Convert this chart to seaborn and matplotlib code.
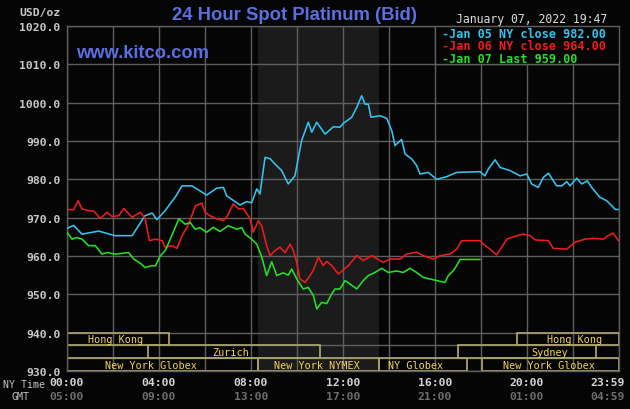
import matplotlib
matplotlib.use("Agg")
import matplotlib.pyplot as plt
import matplotlib.transforms as mtransforms
from matplotlib.patches import Rectangle
import pandas as pd
import seaborn as sns

# ---------------- data ----------------
jan05_hours = [0.00, 0.29, 0.65, 1.38, 2.09, 2.83, 3.39, 3.70, 3.91, 4.26, 4.70, 5.00, 5.43, 5.78,
               6.07, 6.51, 6.80, 6.94, 7.52, 7.81, 8.03, 8.25, 8.39, 8.61, 8.83, 9.04, 9.33, 9.62,
               9.91, 10.20, 10.49, 10.64, 10.86, 11.22, 11.58, 11.87, 12.01, 12.38, 12.60, 12.81,
               12.96, 13.10, 13.22, 13.61, 13.90, 14.12, 14.26, 14.40, 14.55, 14.70, 14.99, 15.20,
               15.35, 15.71, 16.07, 16.51, 16.94, 17.96, 18.17, 18.32, 18.61, 18.83, 19.26, 19.70,
               19.99, 20.20, 20.49, 20.71, 20.93, 21.29, 21.51, 21.73, 21.87, 22.16, 22.38, 22.62,
               22.81, 23.17, 23.47, 23.83, 23.97]
jan05_values = [967.2, 968.0, 965.7, 966.5, 965.3, 965.3, 970.5, 971.2, 969.5, 971.8, 975.3, 978.3,
                978.3, 977.0, 975.9, 977.7, 977.9, 975.7, 973.3, 974.2, 973.9, 977.5, 976.2, 985.7,
                985.4, 984.0, 982.3, 978.8, 980.9, 990.1, 994.9, 992.3, 994.9, 991.8, 993.7, 993.6,
                994.6, 996.2, 998.8, 1001.8, 999.6, 999.6, 996.2, 996.6, 995.9, 992.7, 988.8, 989.6,
                990.4, 986.6, 985.3, 983.6, 981.4, 981.8, 980.0, 980.7, 981.8, 982.0, 980.9, 982.7,
                985.1, 983.1, 982.3, 980.9, 981.4, 978.8, 977.9, 980.5, 981.6, 978.3, 978.3, 979.4,
                978.3, 980.3, 978.8, 979.6, 977.9, 975.3, 974.4, 972.2, 972.1]

jan06_hours = [0.00, 0.29, 0.48, 0.65, 0.94, 1.16, 1.45, 1.74, 1.96, 2.25, 2.47, 2.83, 3.19, 3.40,
               3.58, 3.84, 4.13, 4.27, 4.57, 4.78, 5.00, 5.29, 5.58, 5.86, 6.00, 6.22, 6.51, 6.80,
               6.94, 7.23, 7.45, 7.67, 7.96, 8.10, 8.32, 8.47, 8.68, 8.83, 9.04, 9.26, 9.48, 9.70,
               9.84, 9.99, 10.13, 10.35, 10.57, 10.71, 10.93, 11.14, 11.29, 11.51, 11.80, 12.23,
               12.60, 12.88, 13.25, 13.75, 14.04, 14.48, 14.77, 15.20, 15.49, 15.93, 16.22, 16.65,
               16.94, 17.16, 17.96, 18.10, 18.39, 18.68, 18.90, 19.12, 19.55, 19.84, 20.13, 20.35,
               20.93, 21.14, 21.73, 22.09, 22.52, 22.88, 23.32, 23.53, 23.75, 23.97]
jan06_values = [972.1, 972.1, 974.4, 972.3, 971.8, 971.7, 969.8, 971.4, 970.3, 970.5, 972.4, 970.1,
                971.4, 969.7, 964.0, 964.4, 964.0, 962.3, 962.7, 962.0, 965.3, 968.3, 973.1, 973.8,
                971.4, 970.5, 969.7, 969.3, 970.1, 973.6, 972.3, 972.4, 969.7, 966.2, 969.2, 967.8,
                962.7, 960.1, 961.4, 962.3, 960.9, 963.1, 961.4, 958.3, 954.0, 953.1, 954.9, 956.3,
                959.7, 957.5, 958.6, 957.5, 955.3, 957.5, 960.1, 958.8, 960.1, 958.3, 959.2, 959.2,
                960.5, 961.0, 960.1, 959.2, 960.1, 960.5, 961.8, 964.0, 964.0, 963.1, 961.8, 960.3,
                962.3, 964.4, 965.3, 965.7, 965.3, 964.2, 964.0, 962.0, 961.8, 963.6, 964.4, 964.6,
                964.4, 965.3, 966.0, 964.0]

jan07_hours = [0.00, 0.22, 0.43, 0.65, 0.94, 1.23, 1.52, 1.74, 2.10, 2.39, 2.68, 2.90, 3.19, 3.40,
               3.70, 3.84, 4.06, 4.27, 4.49, 4.71, 4.86, 5.14, 5.36, 5.57, 5.78, 6.07, 6.36, 6.65,
               7.01, 7.38, 7.60, 7.74, 8.03, 8.25, 8.47, 8.68, 8.90, 9.12, 9.40, 9.62, 9.77, 9.99,
               10.27, 10.49, 10.71, 10.86, 11.07, 11.29, 11.51, 11.65, 11.87, 12.09, 12.30, 12.60,
               12.88, 13.10, 13.39, 13.68, 13.97, 14.33, 14.62, 14.91, 15.20, 15.49, 15.78, 16.07,
               16.43, 16.58, 16.80, 16.94, 17.09, 17.96]
jan07_values = [966.2, 964.4, 964.8, 964.4, 962.7, 962.7, 960.5, 960.9, 960.5, 960.7, 960.9, 959.2,
                958.1, 957.0, 957.5, 957.4, 960.1, 961.4, 964.4, 967.5, 969.7, 968.3, 968.7, 967.0,
                967.4, 966.2, 967.5, 966.4, 967.9, 967.0, 967.4, 965.7, 964.4, 963.1, 959.7, 954.9,
                958.5, 954.9, 955.6, 955.0, 956.6, 954.0, 951.4, 951.8, 949.7, 946.2, 947.9, 947.6,
                950.1, 951.4, 951.4, 953.6, 952.7, 951.4, 953.6, 954.9, 955.7, 956.8, 955.7, 956.1,
                955.7, 956.8, 955.7, 954.4, 954.0, 953.6, 953.1, 954.9, 956.2, 957.5, 959.1, 959.1]

series_labels = ["Jan 05 NY close", "Jan 06 NY close", "Jan 07 Last"]
legend_values = [982.00, 964.00, 959.00]
series_colors = ["#35c3f0", "#ee1c1c", "#25e025"]

y_ticks = [930, 940, 950, 960, 970, 980, 990, 1000, 1010, 1020]
ny_time_labels = ["00:00", "04:00", "08:00", "12:00", "16:00", "20:00", "23:59"]
gmt_time_labels = ["05:00", "09:00", "13:00", "17:00", "21:00", "01:00", "04:59"]
time_label_hours = [0, 4, 8, 12, 16, 20, 23.52]

session_names = ["Hong Kong", "Hong Kong", "Zurich", "Sydney",
                 "New York Globex", "New York NYMEX", "NY Globex", "New York Globex"]
session_rows = [0, 0, 1, 1, 2, 2, 2, 2]
session_start = [0.0, 19.57, 3.52, 17.0, 0.0, 8.30, 13.55, 18.04]
session_end = [4.43, 24.0, 11.0, 23.0, 8.30, 13.55, 17.38, 24.0]
session_label_x = [2.09, 22.05, 7.13, 20.98, 3.63, 10.88, 15.17, 20.96]

nymex_start, nymex_end = 8.30, 13.58
title_text = "24 Hour Spot Platinum (Bid)"
site_text = "www.kitco.com"
date_text = "January 07, 2022 19:47"

# ---------------- styling ----------------
BG = "#050505"
GRID = "#5e5e5e"
TXT = "#c8c8c8"
BLUE = "#5a6fe0"
BOX = "#a89f6c"
BOXTXT = "#f2d45a"
MONO = "DejaVu Sans Mono"

sns.set_style("dark", rc={"axes.facecolor": BG, "figure.facecolor": BG,
                          "grid.color": GRID, "axes.edgecolor": GRID})
plt.rcParams["font.family"] = ["DejaVu Sans"]

fig = plt.figure(figsize=(6.3, 4.1), dpi=100, facecolor=BG)
ax = fig.add_axes([67 / 630, 1 - 372 / 410, (619 - 67) / 630, (372 - 27) / 410])
ax.set_facecolor(BG)

frames = []
for name, hrs, vals in zip(series_labels,
                           [jan05_hours, jan06_hours, jan07_hours],
                           [jan05_values, jan06_values, jan07_values]):
    frames.append(pd.DataFrame({"hour": hrs, "value": vals, "series": name}))
df = pd.concat(frames, ignore_index=True)

sns.lineplot(data=df, x="hour", y="value", hue="series", palette=dict(zip(series_labels, series_colors)),
             estimator=None, sort=False, legend=False, linewidth=1.15, ax=ax, zorder=4)

ax.set_xlim(0, 24)
ax.set_ylim(930, 1020)
ax.set_xticks(list(range(0, 25, 2)))
ax.set_xticklabels([])
ax.set_yticks(y_ticks)
ax.set_yticklabels([f"{v:.1f}" for v in y_ticks], fontfamily=MONO, fontweight="bold",
                   fontsize=8.2, color=TXT)
ax.tick_params(axis="both", length=0, pad=4.5)
ax.set_xlabel("")
ax.set_ylabel("")
ax.grid(True, color=GRID, linewidth=1.0)
ax.set_axisbelow(True)
for s in ax.spines.values():
    s.set_color(GRID)
    s.set_linewidth(1.0)

# NYMEX shading
ax.axvspan(nymex_start, nymex_end, color="#1b1b1b", zorder=0.2, lw=0)

# session rows
row_bounds = [(936.667, 940.0), (933.333, 936.667), (930.0, 933.333)]
for lo, hi in row_bounds:
    ax.plot([0, 24], [lo, lo], color=GRID, lw=1.0, zorder=1.5)
for name, r, s0, s1, lx in zip(session_names, session_rows, session_start, session_end, session_label_x):
    lo, hi = row_bounds[r]
    ax.add_patch(Rectangle((s0, lo), s1 - s0, hi - lo, fill=False, edgecolor=BOX, lw=1.3, zorder=2))
    ax.text(lx, (lo + hi) / 2, name, ha="center", va="center", fontfamily=MONO,
            fontsize=7.3, color=BOXTXT, zorder=3)

# time labels
tr = mtransforms.blended_transform_factory(ax.transData, fig.transFigure)
for h, ny, gmt in zip(time_label_hours, ny_time_labels, gmt_time_labels):
    ax.text(h, 1 - 383 / 410, ny, transform=tr, ha="center", va="center", fontfamily=MONO,
            fontweight="bold", fontsize=8.2, color="#d4d4d4", clip_on=False)
    ax.text(h, 1 - 397 / 410, gmt, transform=tr, ha="center", va="center", fontfamily=MONO,
            fontweight="bold", fontsize=8.2, color="#6e6e6e", clip_on=False)
fig.text(3 / 630, 1 - 385 / 410, "NY Time", ha="left", va="center", fontfamily=MONO,
         fontsize=7.2, color="#c4c4c4")
fig.text(29 / 630, 1 - 397 / 410, "GMT", ha="right", va="center", fontfamily=MONO,
         fontsize=7.2, color="#c4c4c4")
fig.text(61 / 630, 1 - 13 / 410, "USD/oz", ha="right", va="center", fontfamily=MONO,
         fontweight="bold", fontsize=8.2, color=TXT)

# titles
fig.text(294 / 630, 1 - 15 / 410, title_text, ha="center", va="center",
         fontfamily="Liberation Sans", fontweight="bold", fontsize=13.3, color=BLUE)
fig.text(142.5 / 630, 1 - 54 / 410, site_text, ha="center", va="center",
         fontfamily="Liberation Sans", fontweight="bold", fontsize=13.2, color=BLUE)
fig.text(607 / 630, 1 - 19 / 410, date_text, ha="right", va="center", fontfamily=MONO,
         fontsize=8.3, color="#dcdcdc")

# legend box
ax.add_patch(Rectangle((16, 1010), 8, 10, facecolor=BG, edgecolor=GRID, lw=1.0, zorder=6))
legend_y = [1018.17, 1015.04, 1011.65]
for lab, val, col, yy in zip(series_labels, legend_values, series_colors, legend_y):
    ax.text(16.29, yy, f"-{lab} {val:.2f}", ha="left", va="center", fontfamily=MONO,
            fontweight="bold", fontsize=8.5, color=col, zorder=7)

fig.savefig("out.png", dpi=100, facecolor=BG)
